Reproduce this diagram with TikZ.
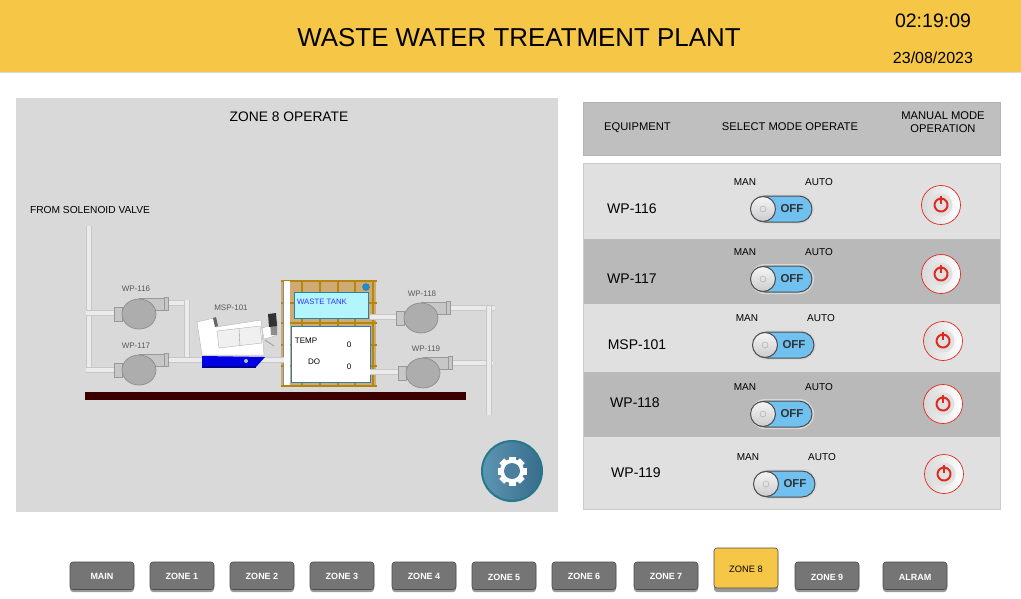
\documentclass[tikz,border=0pt]{standalone}
\usepackage{fontspec}
\setmainfont{Liberation Sans}
\definecolor{topbar}{HTML}{F6C646}
\definecolor{panelgray}{HTML}{D9D9D9}
\definecolor{rowlight}{HTML}{E0E0E0}
\definecolor{rowdark}{HTML}{B9B9B9}
\definecolor{headgray}{HTML}{BFBFBF}
\definecolor{btngray}{HTML}{757575}
\definecolor{floorred}{HTML}{3D0000}
\definecolor{tankwood}{HTML}{CDAB72}
\definecolor{tankbar}{HTML}{B5860F}
\definecolor{tankline}{HTML}{2A7FB0}
\definecolor{tankcyan}{HTML}{B3F5FC}
\definecolor{togblue}{HTML}{70C0F0}
\definecolor{pumpgray}{HTML}{ADADAD}
\definecolor{powerred}{HTML}{E02A20}
\definecolor{gearring}{HTML}{26788C}
\definecolor{gearleft}{HTML}{5C96B2}
\definecolor{gearright}{HTML}{386C8C}
\definecolor{gearhole}{HTML}{4A809E}
\newcommand{\fs}[1]{\fontsize{#1}{#1}\selectfont}
\tikzset{
	pipeline/.style = {draw = black!22, line width = 1.5, double = white!92!black, double distance = 3.5},
	pumpbody/.style = {draw = black!45, fill = pumpgray, line width = 0.7},
	flange/.style = {draw = black!40, fill = black!22, line width = 0.5},
	tagtext/.style = {text = black!65, font = \fs{8}},
	headtext/.style = {align = center, font = \fontsize{11.2}{13}\selectfont},
	zonebtn/.style = {draw = black!70, fill = btngray, rounded corners = 3, line width = 0.6},
	pics/pump/.style = {code = {
		\draw [flange] (-25,-7) rectangle (-17,7);
		\draw [flange] (0,-15.5) rectangle (25,-4);
		\draw [flange] (25,-17) rectangle (29,-4);
		\draw [pumpbody] (0,0) ellipse [x radius = 17pt, y radius = 15pt];
	}}
}
\begin{document}
\begin{tikzpicture}[x=1pt, y=-1pt]
	\useasboundingbox (0,0) rectangle (1021,598);
	\fill [white] (0,0) rectangle (1021,598);

	% top bar
	\fill [topbar] (0,0) rectangle (1021,72);
	\draw [black!15] (0,72) -- (1021,72);
	\node (title) at (519,38) {\fs{25.9}WASTE WATER TREATMENT PLANT};
	\node (clock) at (933,21) {\fs{19.5}02:19:09};
	\node (date) at (933,58) {\fs{16}23/08/2023};

	% zone panel
	\fill [panelgray] (16,98) rectangle (558,512);
	\node (zonetitle) at (289,117) {\fs{13.8}ZONE 8 OPERATE};
	\node (fromvalve) at (90,210) {\fs{10.2}FROM SOLENOID VALVE};
	\fill [floorred] (85,392) rectangle (466,400);

	% tank
	\fill [tankwood] (281,281) rectangle (376,386);
	\foreach \x in {302,320,338,355,373}
	\draw [tankbar, line width = 1.5] (\x,281) -- (\x,386);
	\foreach \y in {303,323,345,366}
	\draw [tankbar, line width = 2] (281,\y) -- (377,\y);
	\foreach \y in {281,386}
	\draw [tankbar, line width = 2.5] (281,\y) -- (377,\y);
	\draw [black!45] (283,281) -- (283,385);
	\fill [white] (284,281) rectangle (290,385);
	\draw [tankline, fill = tankcyan] (294,292) rectangle (368,318);
	\draw [tankline, fill = white] (291,326) rectangle (370,382);
	\draw [black!60, fill = cyan!80!blue] (366,287) circle (3.5pt);
	\node [text = blue!80, font = \fs{7.8}] (wastetank) at (322,302) {WASTE TANK};
	\node [font = \fs{8}] (temptxt) at (306,341) {TEMP};
	\node [font = \fs{8}] (dotxt) at (314,362) {DO};
	\node [font = \fs{8}] (tempval) at (349,345) {0};
	\node [font = \fs{8}] (doval) at (349,367) {0};

	% pipes
	\draw [pipeline] (89,226) -- (89,370);
	\draw [pipeline] (86,313) -- (114,313);
	\draw [pipeline] (86,370) -- (114,370);
	\draw [pipeline] (165,303) -- (187,303);
	\draw [pipeline] (187,300) -- (187,360);
	\draw [pipeline] (165,360) -- (284,360);
	\draw [pipeline] (370,317) -- (398,317);
	\draw [pipeline] (370,372) -- (400,372);
	\draw [pipeline] (447,308) -- (495,308);
	\draw [pipeline] (450,363) -- (493,363);
	\draw [pipeline] (489,306) -- (489,415);

	% pumps
	\pic at (139,314) {pump};
	\pic at (139,370) {pump};
	\pic at (421,318) {pump};
	\pic at (423,373) {pump};
	\node [tagtext] (tag116) at (136,289) {WP-116};
	\node [tagtext] (tag117) at (136,346) {WP-117};
	\node [tagtext] (tag118) at (422,294) {WP-118};
	\node [tagtext] (tag119) at (426,349) {WP-119};
	\node [tagtext] (tag101) at (231,308) {MSP-101};

	% screw press
	\fill [blue!90!black] (202,356) -- (265,357) -- (256,367) -- (202,367) -- cycle;
	\fill [blue!55!black] (202,366) rectangle (256,368);
	\fill [black!25] (246,361) circle (2pt);
	\draw [black!30, fill = white] (197,322) -- (214,318) -- (216,327) -- (261,320) -- (264,355) -- (202,355) -- cycle;
	\draw [black!30, fill = black!6] (217,331) -- (260,326) -- (262,343) -- (219,348) -- cycle;
	\draw [black!40] (239,329) -- (240,346);
	\fill [black!60] (213,318) -- (216,317) -- (218,326) -- (215,327) -- cycle;
	\draw [black!30, fill = white] (262,328) -- (272,325) -- (275,336) -- (264,339) -- cycle;
	\fill [black!45] (270,322) -- (277,321) -- (277,335) -- (271,335) -- cycle;
	\fill [black!80] (268,314) -- (276,313) -- (277,326) -- (269,327) -- cycle;
	\draw [black!35, line width = 1] (265,340) -- (274,346);

	% settings button
	\draw [line width = 2, draw = gearring, left color = gearleft, right color = gearright] (512,471) circle (30pt);
	\foreach \a in {0,45,...,315}
	\fill [white, rotate around = {\a:(512,471)}] (508.5,456.5) rectangle (515.5,464);
	\fill [white] (512,471) circle (12pt);
	\fill [gearhole] (512,471) circle (8pt);

	% equipment table
	\draw [black!30, fill = headgray] (583,102) rectangle (1000,155);
	\node [headtext, anchor = base] (eqhead) at (637.5,130) {EQUIPMENT};
	\node [headtext, anchor = base] (modehead) at (790,130) {SELECT MODE OPERATE};
	\node [headtext] (manhead) at (943,122.5) {MANUAL MODE\\OPERATION};
	\foreach \ya/\yb/\col in {163/239/rowlight,239/304/rowdark,304/372/rowlight,372/437/rowdark,437/509/rowlight}
	\fill [\col] (583,\ya) rectangle (1000,\yb);
	\draw [black!20] (583,163) rectangle (1000,509);

	\foreach \nm/\lx/\ly/\tx/\ty/\px/\py in {WP-116/632/209/782/209/941/205, WP-117/632/279/782/279/941/274, MSP-101/637/345/784/345/943/341, WP-118/635/403/782/414/943/404, WP-119/636/473/785/484/944/474} {
		\node (lbl\nm) at (\lx,\ly) {\fs{14}\nm};
		\begin{scope}[shift = {(\tx,\ty)}]
			\node [font = \fs{10}] (man\nm) at (-37,-27) {MAN};
			\node [font = \fs{10}] (auto\nm) at (37,-27) {AUTO};
			\draw [white!85!black, line width = 2, rounded corners = 14] (-31,-14) rectangle (31,14);
			\draw [black!70, fill = togblue, line width = 1, rounded corners = 13] (-30,-13) rectangle (30,13);
			\draw [black!70, top color = black!4, bottom color = black!20, line width = 1] (-19,0) circle (12.5pt);
			\draw [black!35, line width = 0.4] (-19,0) circle (3pt);
			\node [font = \bfseries\fs{11.5}, text = black!80] (off\nm) at (10,0) {OFF};
		\end{scope}
		\begin{scope}[shift = {(\px,\py)}]
			\draw [powerred, line width = 0.7, left color = black!15, right color = white] (0,0) circle (19.5pt);
			\fill [black!12] (0,0) circle (11.5pt);
			\draw [powerred, line width = 2] (3.5,-5.5) arc [start angle = 58, end angle = 482, radius = 6.5pt];
			\draw [powerred, line width = 2] (0,-9) -- (0,-1);
		\end{scope}
	}

	% zone buttons
	\foreach \nm/\bx/\by in {MAIN/102/576, ZONE 1/182/576, ZONE 2/262/576, ZONE 3/342/576, ZONE 4/424/576, ZONE 5/504/577, ZONE 6/584/576, ZONE 7/666/576, ZONE 9/827/577, ALRAM/915/577} {
		\fill [black!40, rounded corners = 3] (\bx-32,565) rectangle (\bx+32,592);
		\draw [zonebtn] (\bx-32,562) rectangle (\bx+32,589.5);
		\node [text = white, font = \bfseries\fs{9}] (btn\nm) at (\bx,\by) {\nm};
	}
	\fill [black!40, rounded corners = 3] (714,552) rectangle (778,592);
	\draw [zonebtn, fill = topbar] (714,548) rectangle (778,588);
	\node [font = \fs{9.3}] (btnzone8) at (746,569) {ZONE 8};
\end{tikzpicture}
\end{document}
